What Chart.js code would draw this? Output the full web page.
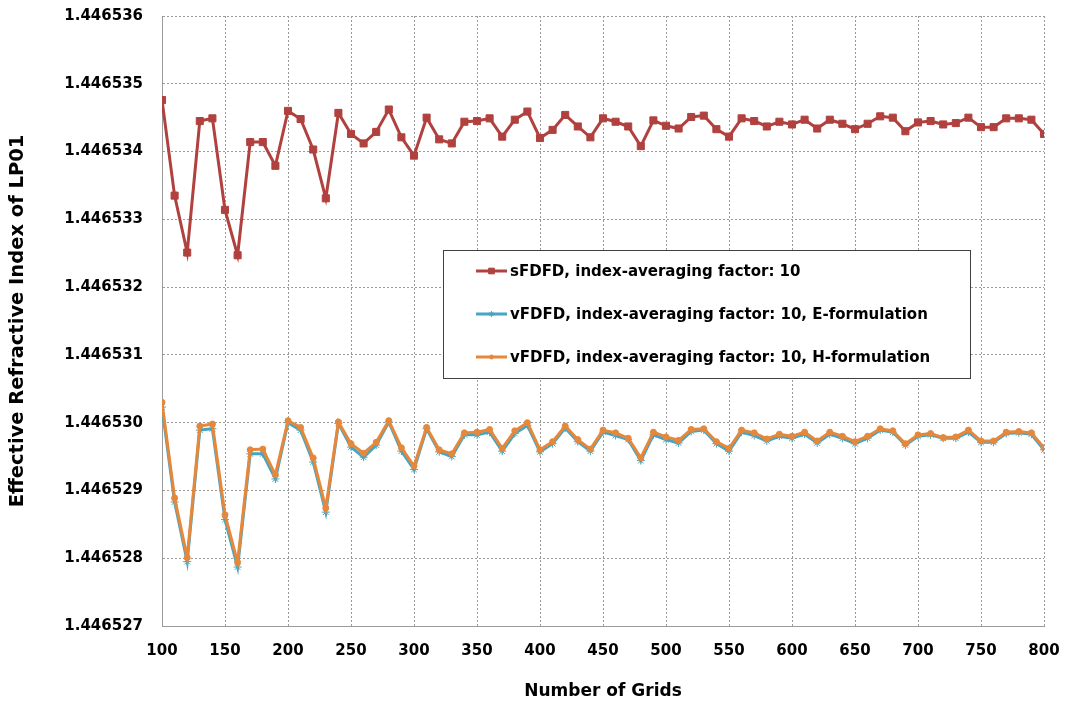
<!DOCTYPE html>
<html>
<head>
<meta charset="utf-8">
<title>Effective Refractive Index of LP01</title>
<script src="https://cdn.jsdelivr.net/npm/chart.js@4.4.1/dist/chart.umd.min.js"></script>
<style>
  body { margin: 0; background: #fff; }
  #wrap { width: 1065px; height: 706px; }
</style>
</head>
<body>
<div id="wrap"><canvas id="myChart" width="1065" height="706"></canvas></div>
<script>
// number of grids (x)
var grids = [100, 110, 120, 130, 140, 150, 160, 170, 180, 190,
             200, 210, 220, 230, 240, 250, 260, 270, 280, 290,
             300, 310, 320, 330, 340, 350, 360, 370, 380, 390,
             400, 410, 420, 430, 440, 450, 460, 470, 480, 490,
             500, 510, 520, 530, 540, 550, 560, 570, 580, 590,
             600, 610, 620, 630, 640, 650, 660, 670, 680, 690,
             700, 710, 720, 730, 740, 750, 760, 770, 780, 790, 800]

var sFDFD = [1.44653476, 1.44653335, 1.44653251, 1.44653445, 1.44653449, 1.44653314, 1.44653247, 1.44653414, 1.44653414, 1.44653379,
             1.44653460, 1.44653448, 1.44653403, 1.44653331, 1.44653457, 1.44653426, 1.44653412, 1.44653429, 1.44653462, 1.44653421,
             1.44653394, 1.44653450, 1.44653418, 1.44653412, 1.44653444, 1.44653445, 1.44653449, 1.44653422, 1.44653447, 1.44653459,
             1.44653420, 1.44653432, 1.44653454, 1.44653437, 1.44653421, 1.44653449, 1.44653444, 1.44653437, 1.44653408, 1.44653446,
             1.44653438, 1.44653434, 1.44653451, 1.44653453, 1.44653433, 1.44653422, 1.44653449, 1.44653445, 1.44653437, 1.44653444,
             1.44653440, 1.44653447, 1.44653434, 1.44653447, 1.44653441, 1.44653433, 1.44653441, 1.44653452, 1.44653450, 1.44653430,
             1.44653443, 1.44653445, 1.44653440, 1.44653442, 1.44653450, 1.44653436, 1.44653436, 1.44653449, 1.44653449, 1.44653447, 1.44653426]

var vFDFD_E = [1.44653023, 1.44652883, 1.44652795, 1.44652989, 1.44652991, 1.44652857, 1.44652787, 1.44652954, 1.44652954, 1.44652917,
               1.44653000, 1.44652989, 1.44652942, 1.44652868, 1.44652999, 1.44652964, 1.44652949, 1.44652967, 1.44653001, 1.44652958,
               1.44652931, 1.44652991, 1.44652957, 1.44652950, 1.44652982, 1.44652982, 1.44652986, 1.44652958, 1.44652984, 1.44652996,
               1.44652957, 1.44652969, 1.44652992, 1.44652972, 1.44652958, 1.44652986, 1.44652981, 1.44652975, 1.44652944, 1.44652982,
               1.44652975, 1.44652970, 1.44652987, 1.44652989, 1.44652969, 1.44652958, 1.44652986, 1.44652981, 1.44652973, 1.44652980,
               1.44652977, 1.44652983, 1.44652970, 1.44652983, 1.44652977, 1.44652969, 1.44652977, 1.44652989, 1.44652986, 1.44652967,
               1.44652980, 1.44652982, 1.44652977, 1.44652977, 1.44652986, 1.44652971, 1.44652971, 1.44652984, 1.44652985, 1.44652983, 1.44652960]

var vFDFD_H = [1.44653030, 1.44652889, 1.44652801, 1.44652995, 1.44652998, 1.44652864, 1.44652794, 1.44652960, 1.44652961, 1.44652923,
               1.44653003, 1.44652993, 1.44652948, 1.44652874, 1.44653001, 1.44652969, 1.44652955, 1.44652971, 1.44653003, 1.44652963,
               1.44652936, 1.44652993, 1.44652960, 1.44652954, 1.44652985, 1.44652986, 1.44652990, 1.44652962, 1.44652988, 1.44653000,
               1.44652960, 1.44652972, 1.44652995, 1.44652975, 1.44652961, 1.44652989, 1.44652985, 1.44652977, 1.44652948, 1.44652986,
               1.44652979, 1.44652974, 1.44652990, 1.44652991, 1.44652972, 1.44652962, 1.44652989, 1.44652985, 1.44652976, 1.44652983,
               1.44652980, 1.44652986, 1.44652973, 1.44652986, 1.44652980, 1.44652972, 1.44652980, 1.44652991, 1.44652988, 1.44652969,
               1.44652982, 1.44652984, 1.44652978, 1.44652979, 1.44652989, 1.44652973, 1.44652973, 1.44652986, 1.44652987, 1.44652985, 1.44652963]

var yTicks = [1.446527, 1.446528, 1.446529, 1.446530, 1.446531, 1.446532, 1.446533, 1.446534, 1.446535, 1.446536]
var xTicks = [100, 150, 200, 250, 300, 350, 400, 450, 500, 550, 600, 650, 700, 750, 800]

var seriesNames = ['sFDFD, index-averaging factor: 10',
                   'vFDFD, index-averaging factor: 10, E-formulation',
                   'vFDFD, index-averaging factor: 10, H-formulation']

var RED = '#B0413E', TEAL = '#45A5C2', ORANGE = '#E5883C'
var FONT = "'DejaVu Sans', sans-serif"

function toPoints(ys) {
    return grids.map(function (g, i) { return { x: g, y: ys[i] } })
}

// legend box drawn inside the plot, like the original
var boxLegend = {
    id: 'boxLegend',
    afterDraw: function (chart) {
        var ctx = chart.ctx
        var bx = 443.5, by = 250.5, bw = 527, bh = 128
        ctx.save()
        ctx.fillStyle = '#fff'
        ctx.fillRect(bx, by, bw, bh)
        ctx.strokeStyle = '#404040'
        ctx.lineWidth = 1
        ctx.strokeRect(bx, by, bw, bh)
        var rows = [271, 314, 357]
        chart.data.datasets.forEach(function (ds, i) {
            var y = rows[i]
            ctx.strokeStyle = ds.borderColor
            ctx.fillStyle = ds.borderColor
            ctx.lineWidth = 3
            ctx.beginPath()
            ctx.moveTo(476, y)
            ctx.lineTo(507, y)
            ctx.stroke()
            ctx.lineWidth = 1
            Chart.helpers.drawPoint(ctx, {
                pointStyle: ds.pointStyle,
                radius: ds.pointRadius - 1,
                borderWidth: ds.pointBorderWidth
            }, 491.5, y)
            ctx.fillStyle = '#000'
            ctx.font = 'bold 15px ' + FONT
            ctx.textBaseline = 'middle'
            ctx.fillText(ds.label, 510, y + 1)
        })
        ctx.restore()
    }
}

var chart = new Chart(document.getElementById('myChart').getContext('2d'), {
    type: 'line',
    data: {
        datasets: [
            {
                label: seriesNames[0],
                data: toPoints(sFDFD),
                borderColor: RED,
                backgroundColor: RED,
                pointBackgroundColor: RED,
                pointBorderColor: RED,
                borderWidth: 3,
                pointStyle: 'rect',
                pointRadius: 5,
                pointBorderWidth: 1,
                order: 0
            },
            {
                label: seriesNames[1],
                data: toPoints(vFDFD_E),
                borderColor: TEAL,
                backgroundColor: TEAL,
                pointBackgroundColor: TEAL,
                pointBorderColor: TEAL,
                borderWidth: 3,
                pointStyle: 'star',
                pointRadius: 4,
                pointBorderWidth: 1,
                order: 2
            },
            {
                label: seriesNames[2],
                data: toPoints(vFDFD_H),
                borderColor: ORANGE,
                backgroundColor: ORANGE,
                pointBackgroundColor: ORANGE,
                pointBorderColor: ORANGE,
                borderWidth: 3,
                pointStyle: 'circle',
                pointRadius: 3,
                pointBorderWidth: 1,
                order: 1
            }
        ]
    },
    options: {
        responsive: false,
        animation: false,
        layout: { padding: { left: 0, top: 16, right: 21, bottom: 0 } },
        plugins: {
            legend: { display: false },
            tooltip: { enabled: false }
        },
        elements: { line: { tension: 0 } },
        scales: {
            x: {
                type: 'linear',
                min: 100,
                max: 800,
                afterFit: function (scale) {
                    scale.height = 80
                    scale.paddingLeft = 0
                    scale.paddingRight = 0
                },
                afterBuildTicks: function (scale) {
                    scale.ticks = xTicks.map(function (v) { return { value: v } })
                },
                grid: { color: '#9a9a9a', lineWidth: 1, drawTicks: false },
                border: { display: true, color: '#9a9a9a', dash: [2, 2] },
                ticks: {
                    padding: 16,
                    color: '#000',
                    font: { family: FONT, size: 15, weight: 'bold' },
                    maxRotation: 0,
                    autoSkip: false
                },
                title: {
                    display: true,
                    text: 'Number of Grids',
                    color: '#000',
                    font: { family: FONT, size: 17, weight: 'bold' },
                    padding: { top: 0, bottom: 4 }
                }
            },
            y: {
                min: 1.446527,
                max: 1.446536,
                afterFit: function (scale) {
                    scale.width = 162
                    scale.paddingTop = 0
                    scale.paddingBottom = 0
                },
                afterBuildTicks: function (scale) {
                    scale.ticks = yTicks.map(function (v) { return { value: v } })
                },
                grid: { color: '#9a9a9a', lineWidth: 1, drawTicks: false },
                border: { display: true, color: '#9a9a9a', dash: [2, 2] },
                ticks: {
                    padding: 19,
                    color: '#000',
                    font: { family: FONT, size: 15, weight: 'bold' },
                    autoSkip: false,
                    callback: function (v) { return Number(v).toFixed(6) }
                },
                title: {
                    display: true,
                    text: 'Effective Refractive Index of LP01',
                    color: '#000',
                    font: { family: FONT, size: 19.5, weight: 'bold' },
                    padding: { top: 6, bottom: 0 }
                }
            }
        }
    },
    plugins: [boxLegend]
})
</script>
</body>
</html>
